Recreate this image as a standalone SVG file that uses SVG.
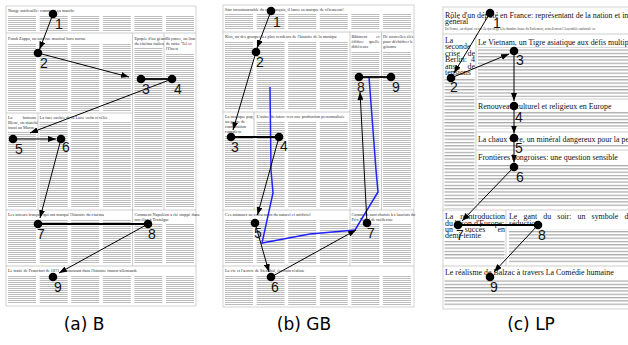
<svg xmlns="http://www.w3.org/2000/svg" width="628" height="345" viewBox="0 0 628 345">
<style>
.frame{fill:#fff;stroke:#c8c8c8;stroke-width:0.8}
.sep{stroke:#c0c0c0;stroke-width:0.8;fill:none}
.ba{fill:url(#ta)}
.bc{fill:url(#tc)}
.ha{font-family:"Liberation Serif",serif;font-size:4.3px;fill:#333}
.hc{font-family:"Liberation Serif",serif;font-size:7.9px;fill:#111}
.sc{font-family:"Liberation Serif",serif;font-size:3.3px;fill:#444}
.node circle{fill:#000}
.node text{font-family:"Liberation Sans",Arial,sans-serif;font-size:14px;fill:#111}
.edge{stroke:#000;stroke-width:1;fill:none;marker-end:url(#ah)}
.thick{stroke:#000;stroke-width:1.8;fill:none}
.cap{font-family:"DejaVu Sans",sans-serif;font-size:17px;fill:#000;text-anchor:middle}
</style>
<defs>
<pattern id="ta" width="6" height="2" patternUnits="userSpaceOnUse"><rect width="6" height="1" fill="#bdbdbd"/></pattern>
<pattern id="tc" width="6" height="3.3" patternUnits="userSpaceOnUse"><rect width="6" height="1.2" fill="#a8a8a8"/></pattern>
<marker id="ah" viewBox="0 0 8 6" refX="8" refY="3" markerWidth="8" markerHeight="6" markerUnits="userSpaceOnUse" orient="auto"><path d="M0,0 L8,3 L0,6 z" fill="#000"/></marker>
</defs>
<rect width="628" height="345" fill="#fff"/>

<!-- Panel (a) -->
<g id="panel-a">
<rect class="frame" x="6" y="6" width="190" height="300"/>
<path class="sep" d="M6,33H196 M132.5,33V266 M164,33V210 M6,113H132.5 M38,113V210 M6,210H196 M6,266H196"/>
<text class="ha" x="8" y="12">Nuage antifeuille: comment ça marche</text>
<rect class="ba" x="8" y="15" width="28" height="16"/><rect class="ba" x="39.6" y="15" width="28" height="16"/><rect class="ba" x="71.2" y="15" width="28" height="16"/><rect class="ba" x="102.8" y="15" width="28" height="16"/><rect class="ba" x="134.4" y="15" width="28" height="16"/><rect class="ba" x="166" y="15" width="28" height="16"/>
<text class="ha" x="8" y="40">Frank Zappa, un satiriste musical hors norme</text>
<rect class="ba" x="8" y="43" width="28" height="68"/><rect class="ba" x="39.6" y="43" width="28" height="68"/><rect class="ba" x="71.2" y="43" width="28" height="68"/><rect class="ba" x="102.8" y="43" width="28" height="68"/>
<text class="ha" x="134.4" y="40">Epopée d'un géant</text><text class="ha" x="134.4" y="45">du cinéma italien</text>
<rect class="ba" x="134.4" y="48" width="28" height="160"/>
<text class="ha" x="166" y="40">Beyonce, un lion</text><text class="ha" x="166" y="45">de notre 'Tel et</text><text class="ha" x="166" y="50">l'Ouest</text>
<rect class="ba" x="166" y="53" width="28" height="155"/>
<text class="ha" x="8" y="119">La</text><text class="ha" x="36" y="119" text-anchor="end">boisson</text><text class="ha" x="8" y="124">Bleue, un marché</text><text class="ha" x="8" y="129">inouï au Maroc</text>
<rect class="ba" x="8" y="132" width="28" height="76"/>
<text class="ha" x="39.6" y="119">La face cachée de la Lune enfin révélée</text>
<rect class="ba" x="39.6" y="122" width="28" height="86"/><rect class="ba" x="71.2" y="122" width="28" height="86"/><rect class="ba" x="102.8" y="122" width="28" height="86"/>
<text class="ha" x="8" y="216">Les acteurs français qui ont marqué l'histoire du cinéma</text>
<rect class="ba" x="8" y="219" width="28" height="45"/><rect class="ba" x="39.6" y="219" width="28" height="45"/><rect class="ba" x="71.2" y="219" width="28" height="45"/><rect class="ba" x="102.8" y="219" width="28" height="45"/>
<text class="ha" x="134.4" y="216">Comment Napoléon a été stoppé dans</text><text class="ha" x="134.4" y="221">son élan à Trafalgar</text>
<rect class="ba" x="134.4" y="224" width="28" height="40"/><rect class="ba" x="166" y="224" width="28" height="40"/>
<text class="ha" x="8" y="272">Le traité de Francfort de 1871, un tournant dans l'histoire franco-allemande</text>
<rect class="ba" x="8" y="275" width="28" height="29"/><rect class="ba" x="39.6" y="275" width="28" height="29"/><rect class="ba" x="71.2" y="275" width="28" height="29"/><rect class="ba" x="102.8" y="275" width="28" height="29"/><rect class="ba" x="134.4" y="275" width="28" height="29"/><rect class="ba" x="166" y="275" width="28" height="29"/>
</g>

<!-- Panel (b) -->
<g id="panel-b">
<rect class="frame" x="223" y="5" width="191" height="302"/>
<path class="sep" d="M223,32H414 M350,32V266 M381.5,32V210 M223,112H350 M254,112V210 M223,210H414 M223,266H414"/>
<text class="ha" x="225" y="11">Star incontournable du rap français, il lance sa marque de vêtements!</text>
<rect class="ba" x="225" y="14" width="28" height="16"/><rect class="ba" x="256.6" y="14" width="28" height="16"/><rect class="ba" x="288.2" y="14" width="28" height="16"/><rect class="ba" x="319.8" y="14" width="28" height="16"/><rect class="ba" x="351.4" y="14" width="28" height="16"/><rect class="ba" x="383" y="14" width="28" height="16"/>
<text class="ha" x="225" y="38">Kiss, un des groupes les plus vendeurs de l'histoire de la musique</text>
<rect class="ba" x="225" y="41" width="28" height="69"/><rect class="ba" x="256.6" y="41" width="28" height="69"/><rect class="ba" x="288.2" y="41" width="28" height="69"/><rect class="ba" x="319.8" y="41" width="28" height="69"/>
<text class="ha" x="351.4" y="38">Bâtiment</text><text class="ha" x="379.4" y="38" text-anchor="end">et</text><text class="ha" x="351.4" y="43">édifice:</text><text class="ha" x="379.4" y="43" text-anchor="end">quelle</text><text class="ha" x="351.4" y="48">différence</text>
<rect class="ba" x="351.4" y="52" width="28" height="156"/>
<text class="ha" x="383" y="38">De nouvelles clés</text><text class="ha" x="383" y="43">pour déchiffrer le</text><text class="ha" x="383" y="48">génome</text>
<rect class="ba" x="383" y="52" width="28" height="156"/>
<text class="ha" x="225" y="118">La musique pop,</text><text class="ha" x="225" y="123">un genre de</text><text class="ha" x="225" y="128">composition</text><text class="ha" x="225" y="133">complexe</text>
<rect class="ba" x="225" y="136" width="28" height="72"/>
<text class="ha" x="256.6" y="118">L'usine du futur: vers une production personnalisée</text>
<rect class="ba" x="256.6" y="121" width="28" height="87"/><rect class="ba" x="288.2" y="121" width="28" height="87"/><rect class="ba" x="319.8" y="121" width="28" height="87"/>
<text class="ha" x="225" y="216">Ces animaux au croisement du naturel et artificiel</text>
<rect class="ba" x="225" y="219" width="28" height="45"/><rect class="ba" x="256.6" y="219" width="28" height="45"/><rect class="ba" x="288.2" y="219" width="28" height="45"/><rect class="ba" x="319.8" y="219" width="28" height="45"/>
<text class="ha" x="351.4" y="216">Comment sont choisis les lauréats du</text><text class="ha" x="351.4" y="221">Prix Nobel de médecine</text>
<rect class="ba" x="351.4" y="224" width="28" height="40"/><rect class="ba" x="383" y="224" width="28" height="40"/>
<text class="ha" x="225" y="272">La vie et l'œuvre de Stendhal, écrivain réaliste</text>
<rect class="ba" x="225" y="275" width="28" height="30"/><rect class="ba" x="256.6" y="275" width="28" height="30"/><rect class="ba" x="288.2" y="275" width="28" height="30"/><rect class="ba" x="319.8" y="275" width="28" height="30"/><rect class="ba" x="351.4" y="275" width="28" height="30"/><rect class="ba" x="383" y="275" width="28" height="30"/>
</g>

<!-- Panel (c) -->
<g id="panel-c">
<rect class="frame" x="443" y="7" width="200" height="302"/>
<path class="sep" d="M443,34H628 M476,34V210 M476,99H628 M476,132H628 M476,150H628 M443,210H628 M506,210V266 M443,266H628"/>
<text class="hc" x="445" y="17.5">Rôle d'un député en France: représentant de la nation et intérêt</text>
<text class="hc" x="445" y="23.5">général</text>
<text class="sc" x="445" y="29.5">En France, un député est un élu qui siège à la chambre basse du Parlement, actuellement l'Assemblée nationale en</text>
<text class="hc" x="445" y="42.5">La</text>
<text class="hc" x="445" y="49">seconde</text>
<text class="hc" x="445" y="55.5">crise</text><text class="hc" x="475" y="55.5" text-anchor="end">de</text>
<text class="hc" x="445" y="62">Berlin:</text><text class="hc" x="475" y="62" text-anchor="end">4</text>
<text class="hc" x="445" y="68.5">ans</text><text class="hc" x="475" y="68.5" text-anchor="end">de</text>
<text class="hc" x="445" y="75">tensions</text>
<rect class="bc" x="444.5" y="77.5" width="30" height="131"/>
<text class="hc" x="478" y="44.5">Le Vietnam, un Tigre asiatique aux défis multiples</text>
<rect class="bc" x="478" y="47" width="150" height="50"/>
<text class="hc" x="478" y="108.5">Renouveau culturel et religieux en Europe</text>
<rect class="bc" x="478" y="112" width="150" height="17"/>
<text class="hc" x="478" y="141.5">La chaux vive, un minéral dangereux pour la peau</text>
<rect class="bc" x="478" y="145" width="150" height="3"/>
<text class="hc" x="478" y="160">Frontières hongroises: une question sensible</text>
<rect class="bc" x="478" y="164" width="150" height="43"/>
<text class="hc" x="445" y="219.3">La</text><text class="hc" x="505" y="219.3" text-anchor="end">réintroduction</text>
<text class="hc" x="445" y="225.5">du bison d'Europe:</text>
<text class="hc" x="445" y="231.7">un</text><text class="hc" x="475" y="231.7" text-anchor="middle">succès</text><text class="hc" x="505" y="231.7" text-anchor="end">en</text>
<text class="hc" x="445" y="237.9">demi-teinte</text>
<rect class="bc" x="444.5" y="241" width="60" height="19"/>
<text class="hc" x="509" y="219.3" word-spacing="4.2">Le gant du soir: un symbole de</text>
<text class="hc" x="509" y="225.5">séduction</text>
<rect class="bc" x="509" y="229" width="119" height="34"/>
<text class="hc" x="445" y="275">Le réalisme de Balzac à travers La Comédie humaine</text>
<rect class="bc" x="444.5" y="279" width="184" height="27"/>
</g>

<!-- Connectors -->
<g id="connectors">
<line class="edge" x1="53" y1="14" x2="39.5" y2="49.5"/>
<line class="edge" x1="38" y1="53" x2="129" y2="77"/>
<line class="thick" x1="141" y1="79" x2="172" y2="79"/>
<line class="edge" x1="172" y1="79" x2="30" y2="133"/>
<line class="edge" x1="13" y1="139" x2="56" y2="139"/>
<line class="edge" x1="61" y1="139" x2="40" y2="218"/>
<line class="thick" x1="38" y1="224" x2="148" y2="224"/>
<line class="edge" x1="148" y1="224" x2="59" y2="273"/>

<polyline points="369,77 376,170 378,192 355,230 310,234 262,243 273,193 271,170 270,87" fill="none" stroke="#1f22ff" stroke-width="1.5"/>
<line class="edge" x1="271" y1="11" x2="257" y2="48"/>
<line class="edge" x1="256" y1="52" x2="233" y2="130"/>
<line class="thick" x1="231" y1="137" x2="279" y2="137"/>
<line class="edge" x1="279" y1="137" x2="257.5" y2="215"/>
<line class="edge" x1="255" y1="223" x2="269" y2="272"/>
<line class="edge" x1="271" y1="277" x2="356" y2="230"/>
<line class="edge" x1="367" y1="223" x2="360" y2="92"/>
<line class="thick" x1="359" y1="77" x2="391" y2="77"/>

<line class="edge" x1="490" y1="13" x2="454" y2="73"/>
<line class="edge" x1="451" y1="78" x2="509" y2="54"/>
<line class="edge" x1="514" y1="51" x2="514" y2="101"/>
<line class="edge" x1="514" y1="106" x2="514" y2="133.5"/>
<line class="edge" x1="514" y1="138" x2="514" y2="162.5"/>
<line class="edge" x1="514" y1="167" x2="462" y2="221"/>
<line class="thick" x1="458" y1="225" x2="538" y2="225"/>
<line class="edge" x1="538" y1="225" x2="494" y2="272"/>
</g>

<!-- Nodes -->
<g id="a-n1" class="node"><circle cx="53" cy="14" r="4.3"/><text x="55" y="29">1</text></g>
<g id="a-n2" class="node"><circle cx="38" cy="53" r="4.3"/><text x="40" y="68">2</text></g>
<g id="a-n3" class="node"><circle cx="141" cy="79" r="4.3"/><text x="142" y="94">3</text></g>
<g id="a-n4" class="node"><circle cx="172" cy="79" r="4.3"/><text x="174" y="94">4</text></g>
<g id="a-n5" class="node"><circle cx="13" cy="139" r="4.3"/><text x="15" y="154">5</text></g>
<g id="a-n6" class="node"><circle cx="61" cy="139" r="4.3"/><text x="62" y="152">6</text></g>
<g id="a-n7" class="node"><circle cx="38" cy="224" r="4.3"/><text x="37" y="239">7</text></g>
<g id="a-n8" class="node"><circle cx="148" cy="224" r="4.3"/><text x="148" y="239">8</text></g>
<g id="a-n9" class="node"><circle cx="53" cy="277" r="4.3"/><text x="54" y="292">9</text></g>

<g id="b-n1" class="node"><circle cx="271" cy="11" r="4.3"/><text x="273" y="27">1</text></g>
<g id="b-n2" class="node"><circle cx="256" cy="52" r="4.3"/><text x="256" y="67">2</text></g>
<g id="b-n3" class="node"><circle cx="231" cy="137" r="4.3"/><text x="231" y="152">3</text></g>
<g id="b-n4" class="node"><circle cx="279" cy="137" r="4.3"/><text x="280" y="151">4</text></g>
<g id="b-n5" class="node"><circle cx="255" cy="223" r="4.3"/><text x="254" y="238">5</text></g>
<g id="b-n6" class="node"><circle cx="271" cy="277" r="4.3"/><text x="271" y="292">6</text></g>
<g id="b-n7" class="node"><circle cx="367" cy="223" r="4.3"/><text x="367" y="238">7</text></g>
<g id="b-n8" class="node"><circle cx="359" cy="77" r="4.3"/><text x="357" y="92">8</text></g>
<g id="b-n9" class="node"><circle cx="391" cy="77" r="4.3"/><text x="392" y="92">9</text></g>

<g id="c-n1" class="node"><circle cx="490" cy="13" r="4.3"/><text x="493" y="28">1</text></g>
<g id="c-n2" class="node"><circle cx="451" cy="78" r="4.3"/><text x="450" y="92">2</text></g>
<g id="c-n3" class="node"><circle cx="514" cy="51" r="4.3"/><text x="516" y="65">3</text></g>
<g id="c-n4" class="node"><circle cx="514" cy="106" r="4.3"/><text x="515" y="122">4</text></g>
<g id="c-n5" class="node"><circle cx="514" cy="138" r="4.3"/><text x="515" y="153">5</text></g>
<g id="c-n6" class="node"><circle cx="514" cy="167" r="4.3"/><text x="516" y="182">6</text></g>
<g id="c-n7" class="node"><circle cx="458" cy="225" r="4.3"/><text x="456" y="240">7</text></g>
<g id="c-n8" class="node"><circle cx="538" cy="225" r="4.3"/><text x="538" y="240">8</text></g>
<g id="c-n9" class="node"><circle cx="490" cy="277" r="4.3"/><text x="490" y="292">9</text></g>

<g id="captions">
<text class="cap" x="84" y="330">(a) B</text>
<text class="cap" x="304" y="330">(b) GB</text>
<text class="cap" x="531" y="330">(c) LP</text>
</g>
</svg>
